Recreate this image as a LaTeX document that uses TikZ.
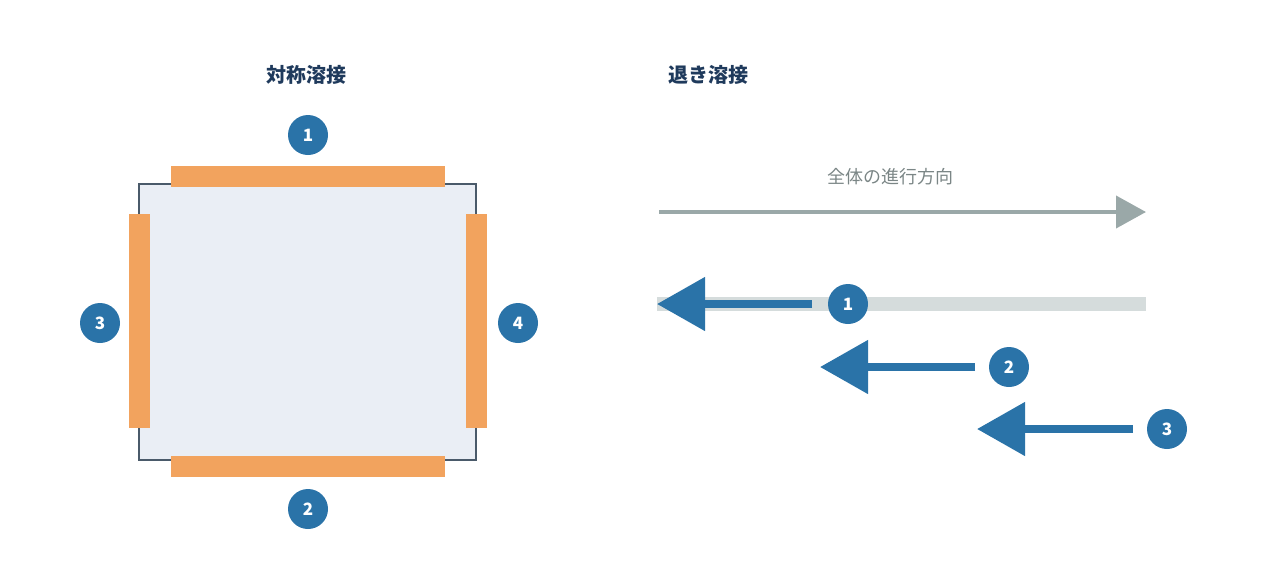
\documentclass[tikz,border=0pt]{standalone}
\usepackage{fontspec}
\setmainfont{Noto Sans CJK JP}
\usetikzlibrary{arrows.meta,positioning}
\definecolor{navy}{HTML}{1F3A5C}
\definecolor{weldblue}{HTML}{2A73A8}
\definecolor{barorange}{HTML}{F2A35E}
\definecolor{plate}{HTML}{EAEEF5}
\definecolor{frame}{HTML}{4A5A6A}
\definecolor{dirgray}{HTML}{9AA8A8}
\definecolor{track}{HTML}{D5DCDC}
\tikzstyle{title} =
  [ font=\fontsize{20}{24}\selectfont\bfseries
  , text=navy
  ]
\tikzstyle{step_badge} =
  [ circle
  , fill=weldblue
  , minimum size=40pt
  , inner sep=0pt
  , text=white
  , font=\fontsize{17}{20}\selectfont\bfseries
  ]
\tikzstyle{weld_bar} =
  [ fill=barorange
  , draw=none
  , inner sep=0pt
  ]
\tikzstyle{weld_arrow} =
  [ draw=weldblue
  , line width=8pt
  , -{Triangle[length=48pt,width=52pt]}
  ]
\begin{document}
\begin{tikzpicture}[x=1pt,y=-1pt]
    \useasboundingbox (0,0) rectangle (1280,582);

    % symmetric welding
    \node[title] (symTitle) at (306,75) {対称溶接};
    \node[draw=frame, line width=2pt, fill=plate, minimum width=337pt, minimum height=276pt, inner sep=0pt] (plate) at (307.5,322) {};
    \node[weld_bar, minimum width=274pt, minimum height=21pt] (barTop)    at (308,176)   {};
    \node[weld_bar, minimum width=274pt, minimum height=21pt] (barBottom) at (308,466.5) {};
    \node[weld_bar, minimum width=21pt, minimum height=214pt] (barLeft)   at (139.5,321) {};
    \node[weld_bar, minimum width=21pt, minimum height=214pt] (barRight)  at (476.5,321) {};
    \node[step_badge] (symOne)   at (308,135) {1};
    \node[step_badge] (symTwo)   at (308,509) {2};
    \node[step_badge] (symThree) at (100,323) {3};
    \node[step_badge] (symFour)  at (518,323) {4};

    % backstep welding
    \node[title] (backTitle) at (708,75) {退き溶接};
    \node[text=dirgray!80!black, font=\fontsize{18}{22}\selectfont] (dirLabel) at (890,177) {全体の進行方向};
    \coordinate (dirStart) at (659,212);
    \coordinate (dirEnd)   at (1146,212);
    \draw[dirgray, line width=4pt, -{Triangle[length=30pt,width=32pt]}] (dirStart) -- (dirEnd);

    \coordinate (trackStart) at (657,304);
    \coordinate (trackEnd)   at (1146,304);
    \draw[track, line width=14pt] (trackStart) -- (trackEnd);

    \coordinate (aStart) at (812,304);
    \coordinate (aEnd)   at (657,304);
    \coordinate (bStart) at (975,367);
    \coordinate (bEnd)   at (820,367);
    \coordinate (cStart) at (1133,429);
    \coordinate (cEnd)   at (977,429);
    \draw[weld_arrow] (aStart) -- (aEnd);
    \draw[weld_arrow] (bStart) -- (bEnd);
    \draw[weld_arrow] (cStart) -- (cEnd);
    \node[step_badge] (backOne)   at (848,304)  {1};
    \node[step_badge] (backTwo)   at (1009,367) {2};
    \node[step_badge] (backThree) at (1167,429) {3};
\end{tikzpicture}
\end{document}
